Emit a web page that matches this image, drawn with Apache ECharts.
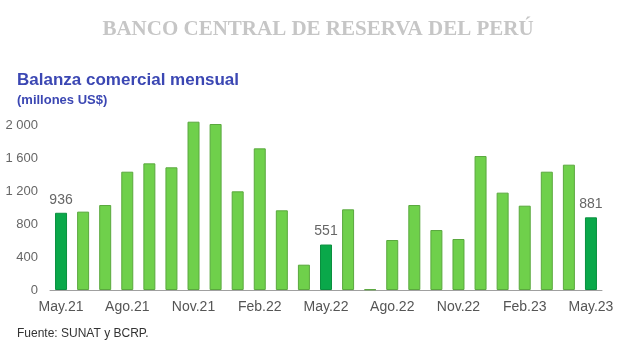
<!DOCTYPE html>
<html><head><meta charset="utf-8">
<script src="https://cdn.jsdelivr.net/npm/echarts@6/dist/echarts.min.js"></script>
<style>html,body{margin:0;padding:0;background:#fff}#c{width:620px;height:351px}</style>
</head><body><div id="c"></div>
<script>
var categories = ['May.21','Jun.21','Jul.21','Ago.21','Set.21','Oct.21','Nov.21','Dic.21','Ene.22','Feb.22','Mar.22','Abr.22','May.22','Jun.22','Jul.22','Ago.22','Set.22','Oct.22','Nov.22','Dic.22','Ene.23','Feb.23','Mar.23','Abr.23','May.23'];
var values = [936,950,1030,1434,1535,1487,2040,2012,1196,1717,966,307,551,978,8,606,1030,727,618,1624,1180,1022,1434,1519,881];
var highlighted = ['May.21','May.22','May.23'];
var yTicks = [0,400,800,1200,1600,2000];

var data = values.map(function(v,i){
  var hl = highlighted.indexOf(categories[i]) >= 0;
  return {
    value: v,
    itemStyle: hl ? {color:'#0aa84a', borderColor:'#0a8f3f', borderWidth:1} : {color:'#6fd04b', borderColor:'#5aa83e', borderWidth:1},
    label: {show: hl}
  };
});

var chart = echarts.init(document.getElementById('c'), null, {renderer:'canvas'});
chart.setOption({
  animation:false,
  backgroundColor:'#fff',
  title:[
    {text:'BANCO CENTRAL DE RESERVA DEL PERÚ', left:313, textAlign:'center', top:14,
     textStyle:{fontFamily:'Liberation Serif', fontWeight:'bold', fontSize:21, color:'#c6c6c6'}},
    {text:'Balanza comercial mensual', left:12, top:67,
     textStyle:{fontFamily:'Liberation Sans', fontWeight:'bold', fontSize:17, color:'#3b47b3'}},
    {text:'(millones US$)', left:12, top:89,
     textStyle:{fontFamily:'Liberation Sans', fontWeight:'bold', fontSize:13, color:'#3b47b3'}},
    {text:'Fuente: SUNAT y BCRP.', left:12, top:323,
     textStyle:{fontFamily:'Liberation Sans', fontWeight:'normal', fontSize:12, color:'#333'}}
  ],
  grid:{left:50, right:18, top:125, bottom:61, containLabel:false},
  xAxis:{
    type:'category', data:categories,
    axisLine:{lineStyle:{color:'#a0a0a0', width:1}},
    axisTick:{show:false},
    axisLabel:{interval:2, color:'#555', fontFamily:'Liberation Sans', fontSize:14, margin:10}
  },
  yAxis:{
    type:'value', min:yTicks[0], max:yTicks[yTicks.length-1], interval:400,
    splitLine:{show:false}, axisLine:{show:false}, axisTick:{show:false},
    axisLabel:{color:'#666', fontFamily:'Liberation Sans', fontSize:13, margin:12,
      formatter:function(v){ return String(v).replace(/\B(?=(\d{3})+(?!\d))/g,' '); }}
  },
  series:[{
    type:'bar', data:data, barWidth:12, clip:false,
    label:{position:'top', distance:6, color:'#666', fontFamily:'Liberation Sans', fontSize:14}
  }]
});
</script></body></html>
